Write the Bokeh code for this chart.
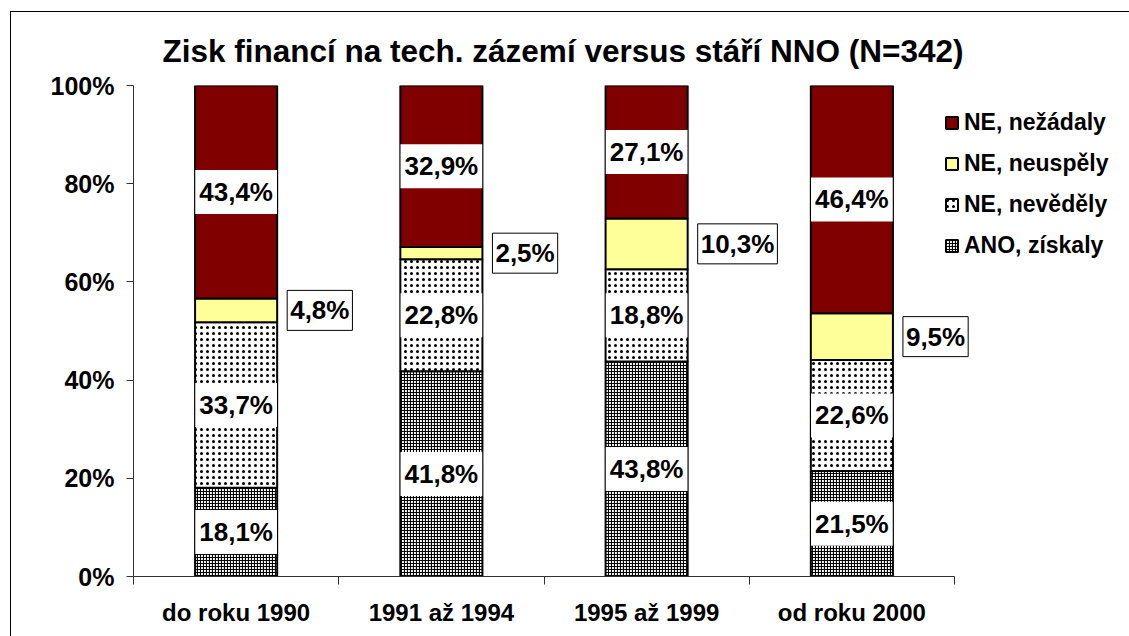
import re
from bokeh.plotting import figure
from bokeh.models import (ColumnDataSource, FixedTicker, LinearAxis, Range1d,
                          Legend, LegendItem)
from bokeh.core.properties import value
from bokeh.embed import file_html
from bokeh.resources import INLINE

# ---- data ----
categories = ["do roku 1990", "1991 až 1994", "1995 až 1999", "od roku 2000"]
series_names = ["ANO, získaly", "NE, nevěděly", "NE, neuspěly", "NE, nežádaly"]
ano_ziskaly = [18.1, 41.8, 43.8, 21.5]
ne_nevedely = [33.7, 22.8, 18.8, 22.6]
ne_neuspely = [4.8, 2.5, 10.3, 9.5]
ne_nezadaly = [43.4, 32.9, 27.1, 46.4]
y_ticks = [0, 20, 40, 60, 80, 100]
y_tick_labels = ["0%", "20%", "40%", "60%", "80%", "100%"]
title_text = "Zisk financí na tech. zázemí versus stáří NNO (N=342)"

FONT = "Liberation Sans"
BAR_W = 0.4
W, H = 1121, 628
ML, MT, MB, MR = 133, 85, 51, 3
FRAME_W = W - ML - MR          # frame extends right so the legend is not clipped
CAT_W = 821                     # pixel width taken by the categories (axis length)
n = len(categories)
x_end = n * FRAME_W / CAT_W

xc = [i + 0.5 for i in range(n)]

p = figure(width=W, height=H, x_range=Range1d(0, x_end),
           y_range=Range1d(0, 100), output_backend="svg", toolbar_location=None,
           x_axis_type=None, y_axis_type=None,
           min_border_left=ML, min_border_right=MR, min_border_top=MT,
           min_border_bottom=MB)
p.outline_line_color = None
p.background_fill_color = "white"
p.border_fill_color = "white"

p.title.text = title_text
p.title.align = "left"
p.title.text_color = "black"
p.title.text_font = FONT
p.title.text_font_style = "bold"
p.title.text_font_size = "31.5px"
p.title.offset = 29
p.title.standoff = 33

styles = [
    dict(fill_color="white", hatch_pattern="cross", hatch_color="black",
         hatch_scale=3, hatch_weight=1.2),
    dict(fill_color="white", hatch_pattern="dot", hatch_color="black",
         hatch_scale=6, hatch_weight=2),
    dict(fill_color="#FFFF99"),
    dict(fill_color="#800000"),
]
values = [ano_ziskaly, ne_nevedely, ne_neuspely, ne_nezadaly]

renderers = []
bottoms = [0.0] * n
label_in = dict(x=[], y=[], t=[])
label_out = dict(x=[], y=[], t=[])
for k, (vals, st) in enumerate(zip(values, styles)):
    tops = [b + v for b, v in zip(bottoms, vals)]
    src = ColumnDataSource(dict(x=xc, bottom=bottoms, top=tops))
    r = p.vbar(x="x", bottom="bottom", top="top", width=BAR_W, source=src,
               line_color="black", line_width=2, **st)
    renderers.append(r)
    for i, v in enumerate(vals):
        mid = bottoms[i] + v / 2
        txt = f"{v:.1f}%".replace(".", ",")
        if k == 2:
            label_out["x"].append(xc[i] + BAR_W / 2)
            label_out["y"].append(mid)
            label_out["t"].append(txt)
        else:
            label_in["x"].append(xc[i])
            label_in["y"].append(mid)
            label_in["t"].append(txt)
    bottoms = tops

lab_common = dict(text="t", text_font=value(FONT), text_font_style="bold",
                  text_font_size="26px", text_baseline="middle", text_color="black",
                  background_fill_color="white")
p.text(x="x", y="y", source=ColumnDataSource(label_in), text_align="center",
       padding=dict(x=4, y=7), **lab_common)
p.text(x="x", y="y", source=ColumnDataSource(label_out), text_align="left",
       x_offset=10, padding=dict(x=3, y=5), border_line_color="black",
       border_line_width=1, **lab_common)

# axes
yaxis = LinearAxis(ticker=FixedTicker(ticks=y_ticks, minor_ticks=[]),
                   major_label_overrides={t: l for t, l in zip(y_ticks, y_tick_labels)},
                   major_tick_out=7, major_tick_in=0, minor_tick_out=0, minor_tick_in=0,
                   major_label_standoff=12, major_label_text_font=FONT,
                   major_label_text_font_style="bold", major_label_text_color="black",
                   major_label_text_font_size="25px",
                   axis_line_color="#333333", major_tick_line_color="#333333")
p.add_layout(yaxis, "left")

xaxis = LinearAxis(ticker=FixedTicker(ticks=xc, minor_ticks=list(range(n + 1))),
                   bounds=(0, n),
                   major_label_overrides={x: c for x, c in zip(xc, categories)},
                   major_tick_out=0, major_tick_in=0, minor_tick_out=8, minor_tick_in=0,
                   major_label_standoff=14, major_label_text_font=FONT,
                   major_label_text_font_style="bold", major_label_text_color="black",
                   major_label_text_font_size="24px",
                   axis_line_color="#333333", minor_tick_line_color="#333333")
p.add_layout(xaxis, "below")

items = [LegendItem(label=s, renderers=[r]) for s, r in zip(series_names, renderers)][::-1]
legend = Legend(items=items, location=(811, 317), orientation="vertical",
                border_line_alpha=0, background_fill_alpha=0,
                label_text_font=FONT, label_text_font_style="bold",
                label_text_color="black",
                label_text_font_size="23px", glyph_width=15, glyph_height=15,
                label_standoff=5, spacing=14, padding=0, margin=0, label_height=24)
p.add_layout(legend)

html = file_html(p, INLINE)
frame_div = ('<div style="position:fixed;left:10px;top:11px;width:3000px;height:3000px;'
             'border-left:1px solid black;border-top:1px solid black;'
             'pointer-events:none;z-index:9999"></div>')
if re.search(r"</body>", html):
    html = re.sub(r"</body>", frame_div + "</body>", html, count=1)
else:
    html = html + frame_div
open("out.html", "w").write(html)
